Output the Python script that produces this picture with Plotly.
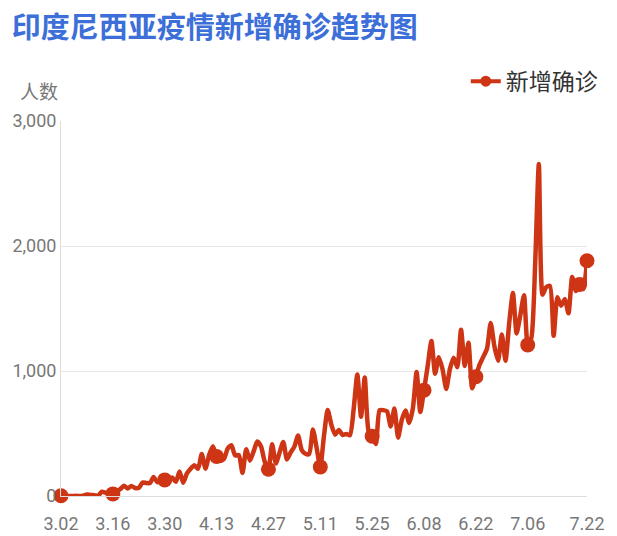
import pandas as pd
import plotly.graph_objects as go

# Daily dates 2020-03-02 .. 2020-07-22 as "M.DD" category labels
dates = [f"{d.month}.{d.day:02d}" for d in pd.date_range("2020-03-02", "2020-07-22", freq="D")]

mar = [2, 0, 0, 0, 2, 0, 2, 13, 8, 7, 0, 35, 27, 21, 17, 38, 55, 82, 60, 81, 64, 65,
       107, 104, 103, 153, 109, 130, 129, 114]
apr = [149, 113, 196, 106, 181, 218, 247, 218, 337, 219, 330, 399, 316, 282, 297, 380,
       407, 325, 327, 185, 375, 283, 357, 436, 396, 275, 214, 415, 260, 347]
may = [433, 292, 349, 395, 484, 367, 338, 336, 533, 387, 233, 484, 689, 568, 490, 529,
       489, 496, 486, 693, 973, 634, 949, 526, 479, 415, 686, 687, 678, 557, 700]
jun = [467, 609, 684, 585, 703, 993, 672, 847, 1043, 1241, 979, 1111, 1014, 857, 1017,
       1106, 1031, 1331, 1041, 1226, 862, 954, 1051, 1113, 1178, 1385, 1198, 1082, 1293, 1082]
jul = [1385, 1624, 1301, 1447, 1607, 1209, 1268, 1853, 2657, 1611, 1671, 1681, 1282,
       1591, 1522, 1574, 1462, 1752, 1639, 1693, 1655, 1882]
new_cases = mar + apr + may + jun + jul

tick_labels = ["3.02", "3.16", "3.30", "4.13", "4.27", "5.11", "5.25", "6.08", "6.22", "7.06", "7.22"]
marker_dates = ["3.02", "3.16", "3.30", "4.13", "4.27", "5.11", "5.25", "6.08", "6.22", "7.06", "7.20", "7.22"]
y_ticks = [0, 1000, 2000, 3000]

RED = "#cd3515"
marker_vals = [new_cases[dates.index(d)] for d in marker_dates]

fig = go.Figure()
fig.add_trace(go.Scatter(x=dates, y=new_cases, mode="lines", cliponaxis=False,
                         line=dict(color=RED, width=4.5, shape="spline", smoothing=0.6),
                         showlegend=False, hoverinfo="skip"))
fig.add_trace(go.Scatter(x=marker_dates, y=marker_vals, mode="markers", cliponaxis=False,
                         marker=dict(color=RED, size=15), showlegend=False))
fig.add_trace(go.Scatter(x=[None], y=[None], mode="lines+markers", name="新增确诊",
                         line=dict(color=RED, width=4), marker=dict(color=RED, size=11)))

fig.update_layout(
    width=609, height=528,
    margin=dict(l=53, r=30, t=113, b=40, autoexpand=False),
    paper_bgcolor="white", plot_bgcolor="white",
    font=dict(family="Roboto, Noto Sans CJK SC", color="#777777", size=18),
    title=dict(text="<b>印度尼西亚疫情新增确诊趋势图</b>", x=0.006, xanchor="left",
               y=0.962, yanchor="middle",
               font=dict(family="Noto Sans CJK SC", size=29, color="#3d6fd9")),
    legend=dict(x=1.03, xanchor="right", y=1.106, yanchor="middle",
                font=dict(family="Noto Sans CJK SC", size=23, color="#333333"),
                itemwidth=30, bgcolor="rgba(0,0,0,0)"),
    xaxis=dict(type="category", categoryorder="array", categoryarray=dates,
               tickmode="array", tickvals=tick_labels, ticktext=tick_labels,
               range=[0, len(dates) - 1], showgrid=False,
               showline=True, linecolor="#dddddd", linewidth=1,
               ticks="outside", ticklen=11, tickcolor="rgba(0,0,0,0)",
               tickfont=dict(size=18, color="#777777"), zeroline=False),
    yaxis=dict(range=[0, 3000], tickvals=y_ticks, tickformat=",",
               showgrid=True, gridcolor="#e8e8e8", gridwidth=1,
               showline=True, linecolor="#dddddd", linewidth=1,
               zeroline=False, ticks="", tickfont=dict(size=18, color="#777777")),
    annotations=[dict(text="人数", xref="paper", yref="paper", x=-0.0816, y=1.082,
                      xanchor="left", yanchor="middle", showarrow=False,
                      font=dict(family="Noto Sans CJK SC", size=19, color="#777777"))],
)

fig.write_html("out.html")
